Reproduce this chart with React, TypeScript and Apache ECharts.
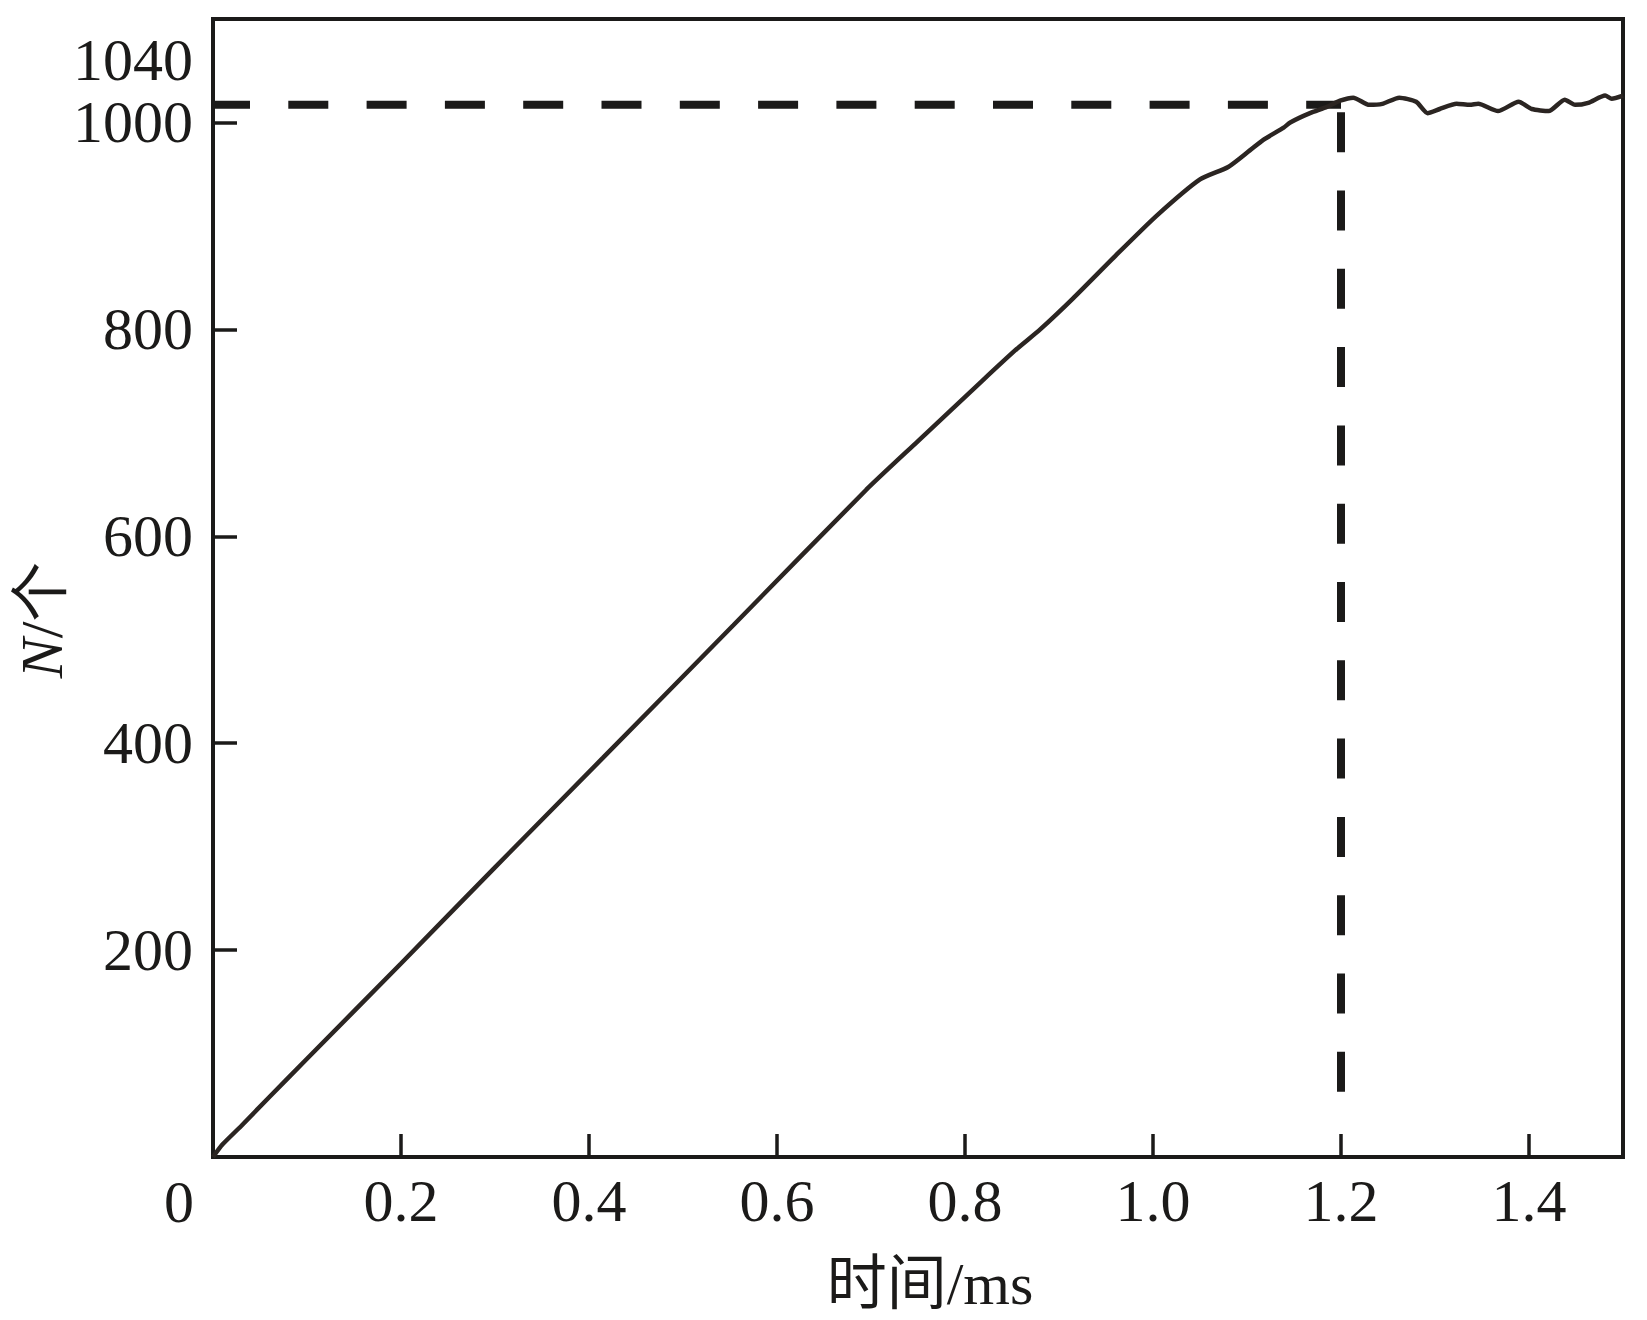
import React, { useEffect, useRef } from "react";
import * as echarts from "echarts";

// Time in ms
const timeMs = [
  0, 0.01, 0.03, 0.06, 0.1, 0.2, 0.3, 0.415, 0.5535, 0.695, 0.75, 0.818, 0.855,
  0.88, 0.915, 0.961, 1.004, 1.05, 1.08, 1.103, 1.117, 1.139, 1.146, 1.167,
  1.185, 1.199, 1.213, 1.23, 1.244, 1.262, 1.28, 1.292, 1.305, 1.323, 1.337,
  1.346, 1.367, 1.389, 1.403, 1.421, 1.438, 1.449, 1.463, 1.481, 1.488, 1.5,
];
// Count N
const countN = [
  0, 12, 30, 58, 95, 187, 280, 386, 514, 645, 692, 750, 781,
  800, 830, 872, 910, 945, 957, 973, 983, 995, 1000, 1009,
  1015, 1021, 1024, 1017, 1018, 1024, 1020, 1009, 1013, 1018, 1017,
  1018, 1011, 1020, 1013, 1011, 1022, 1017, 1019, 1026, 1023, 1026,
];

const xTickValues = [0.2, 0.4, 0.6, 0.8, 1.0, 1.2, 1.4];
const yTickValues = [200, 400, 600, 800, 1000];
const refLevel = 1017;
const refTime = 1.2;
const refBottom = 63;
const extraYLabel = "1040";
const originLabel = "0";
const xTitle = "时间/ms";
const yTitle = "{i|N}/个";

const INK = "#1b1a19";
const SERIF = "'Liberation Serif', 'Times New Roman', 'Noto Sans CJK SC', serif";

export default function App() {
  const ref = useRef<HTMLDivElement>(null);

  useEffect(() => {
    if (!ref.current) return;
    const chart = echarts.init(ref.current, undefined, { renderer: "svg" });
    const curve = timeMs.map((t, i) => [t, countN[i]]);
    chart.setOption({
      animation: false,
      backgroundColor: "#ffffff",
      grid: {
        left: 213,
        top: 19,
        right: 24,
        bottom: 163,
        show: true,
        borderColor: INK,
        borderWidth: 4,
        backgroundColor: "transparent",
      },
      xAxis: {
        type: "value",
        min: 0,
        max: 1.5,
        axisLine: { show: false },
        splitLine: { show: false },
        axisTick: {
          show: true,
          inside: true,
          length: 23,
          customValues: xTickValues,
          lineStyle: { color: INK, width: 3.5 },
        },
        axisLabel: {
          customValues: xTickValues,
          formatter: (v: number) => v.toFixed(1),
          fontFamily: SERIF,
          fontSize: 60,
          color: INK,
          margin: 14,
        },
      },
      yAxis: {
        type: "value",
        min: 0,
        max: 1100,
        axisLine: { show: false },
        splitLine: { show: false },
        axisTick: {
          show: true,
          inside: true,
          length: 24,
          customValues: yTickValues,
          lineStyle: { color: INK, width: 3.5 },
        },
        axisLabel: {
          customValues: yTickValues,
          formatter: (v: number) => String(v),
          fontFamily: SERIF,
          fontSize: 60,
          color: INK,
          margin: 20,
        },
      },
      series: [
        {
          type: "line",
          data: [
            [0, refLevel],
            [refTime, refLevel],
          ],
          symbol: "none",
          silent: true,
          lineStyle: { color: INK, width: 8, type: [40, 38.3], dashOffset: 3 },
          z: 2,
        },
        {
          type: "line",
          data: [
            [refTime, refBottom],
            [refTime, refLevel],
          ],
          symbol: "none",
          silent: true,
          lineStyle: { color: INK, width: 8, type: [40, 38.3] },
          z: 2,
        },
        {
          type: "line",
          data: curve,
          symbol: "none",
          smooth: 0.2,
          silent: true,
          lineStyle: { color: "#2b2522", width: 4.5 },
          z: 3,
        },
      ],
      graphic: [
        {
          type: "text",
          x: 193,
          y: 60,
          style: {
            text: extraYLabel,
            fontFamily: SERIF,
            fontSize: 60,
            fill: INK,
            align: "right",
            verticalAlign: "middle",
          },
        },
        {
          type: "text",
          x: 179,
          y: 1202,
          style: {
            text: originLabel,
            fontFamily: SERIF,
            fontSize: 60,
            fill: INK,
            align: "center",
            verticalAlign: "middle",
          },
        },
        {
          type: "text",
          x: 930,
          y: 1284,
          style: {
            text: xTitle,
            fontFamily: SERIF,
            fontSize: 60,
            fill: INK,
            align: "center",
            verticalAlign: "middle",
          },
        },
        {
          type: "text",
          x: 42,
          y: 620,
          rotation: Math.PI / 2,
          style: {
            text: yTitle,
            fontFamily: SERIF,
            fontSize: 60,
            fill: INK,
            align: "center",
            verticalAlign: "middle",
            rich: {
              i: {
                fontStyle: "italic",
                fontFamily: SERIF,
                fontSize: 60,
                fill: INK,
              },
            },
          },
        },
      ],
    });
    return () => chart.dispose();
  }, []);

  return (
    <div
      ref={ref}
      style={{
        position: "fixed",
        left: 0,
        top: 0,
        width: 1647,
        height: 1320,
        background: "#ffffff",
      }}
    />
  );
}
